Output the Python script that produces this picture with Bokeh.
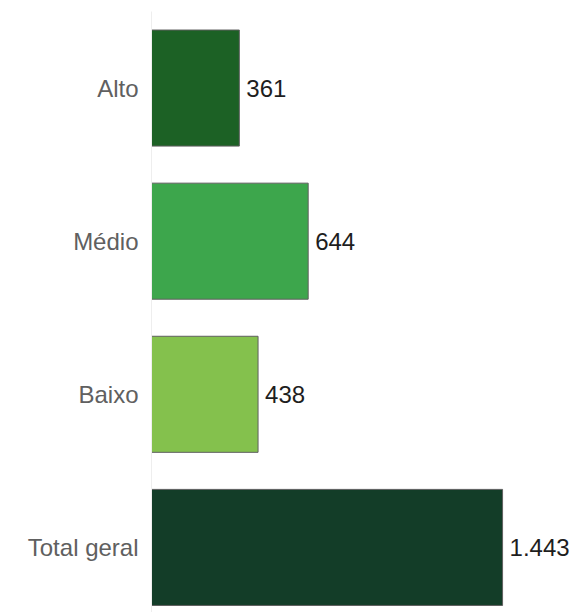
from bokeh.plotting import figure
from bokeh.models import ColumnDataSource, Range1d, FixedTicker
from bokeh.core.properties import value
from bokeh.embed import file_html
from bokeh.resources import INLINE

# Data
categories = ["Alto", "Médio", "Baixo", "Total geral"]
counts = [361, 644, 438, 1443]
colors = ["#1c6125", "#3da64c", "#84c14d", "#133d28"]

FONT = "Liberation Sans"

positions = list(range(len(categories)))
labels = [f"{v:,}".replace(",", ".") for v in counts]

source = ColumnDataSource(dict(
    cat=categories, y=positions, count=counts, color=colors, label=labels,
))

p = figure(
    width=577, height=612,
    x_range=Range1d(0, 1751),
    y_range=Range1d(3.425, -0.5),
    output_backend="svg", toolbar_location=None,
    min_border_left=151, min_border_right=0,
    min_border_top=11, min_border_bottom=0,
)

p.hbar(y="y", left=0, right="count", height=0.758, source=source,
       fill_color="color", line_color="#5f5f5f", line_width=1)

p.text(x="count", y="y", text="label", source=source,
       x_offset=7, text_align="left", text_baseline="middle",
       text_font=value(FONT), text_font_size="24px", text_color="#1e1e1e")

p.xaxis.visible = False
p.grid.visible = False
p.outline_line_color = None

yax = p.yaxis[0]
yax.ticker = FixedTicker(ticks=positions)
yax.major_label_overrides = {i: c for i, c in zip(positions, categories)}
yax.axis_line_color = "#eeeeee"
yax.major_tick_line_color = None
yax.minor_tick_line_color = None
yax.major_label_standoff = 7
yax.major_label_text_font = FONT
yax.major_label_text_font_size = "24px"
yax.major_label_text_color = "#606060"

open("out.html", "w").write(file_html(p, INLINE))
